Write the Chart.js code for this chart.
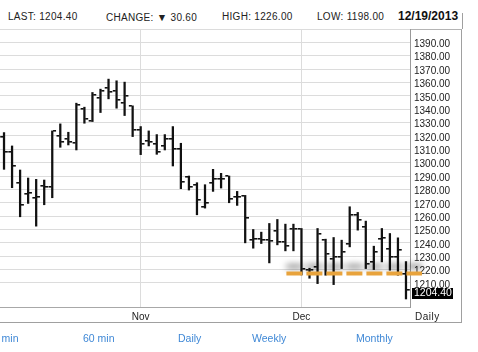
<!DOCTYPE html>
<html>
<head>
<meta charset="utf-8">
<script src="https://cdn.jsdelivr.net/npm/chart.js@4.4.1/dist/chart.umd.min.js"></script>
<style>
  body { margin: 0; background: #fff; font-family: "Liberation Sans", Arial, sans-serif; }
  #wrap { position: relative; width: 478px; height: 352px; overflow: hidden; }
  canvas { position: absolute; left: 0; top: 0; }
  .hdr { position: absolute; top: 11px; font-size: 10px; color: #222; letter-spacing: 0.3px; white-space: nowrap; }
  .date { position: absolute; top: 9px; left: 398px; font-size: 12px; font-weight: bold; color: #111; }
  .frame { position: absolute; left: -1px; top: 29px; width: 462px; height: 292px;
           border-top: 1px solid #b4b4b4; border-right: 1px solid #a0a0a0; border-bottom: 1px solid #a0a0a0; }
  .edge { position: absolute; left: 462px; top: 13px; width: 1px; height: 16px; background: #a0a0a0; }
  .link { position: absolute; top: 332px; font-size: 10.5px; color: #3f88d6; white-space: nowrap; }
  .period { position: absolute; left: 415px; top: 311px; font-size: 10px; color: #222; letter-spacing: 0.5px; }
</style>
</head>
<body>
<div id="wrap">
  <div class="frame"></div>
  <div class="edge"></div>
  <div class="hdr" style="left:8px">LAST: 1204.40</div>
  <div class="hdr" style="left:106px">CHANGE: <span style="font-size:10.5px">&#9660;</span> 30.60</div>
  <div class="hdr" style="left:222px">HIGH: 1226.00</div>
  <div class="hdr" style="left:317px">LOW: 1198.00</div>
  <div class="date">12/19/2013</div>
  <canvas id="chart" width="478" height="352"></canvas>
  <div class="period">Daily</div>
  <div class="link" style="left:-13px">15 min</div>
  <div class="link" style="left:83px">60 min</div>
  <div class="link" style="left:178px">Daily</div>
  <div class="link" style="left:252px">Weekly</div>
  <div class="link" style="left:356px">Monthly</div>
</div>
<script>
const DATES = [
  "10/09", "10/10", "10/11", "10/14", "10/15", "10/16", "10/17", "10/18", "10/21", "10/22",
  "10/23", "10/24", "10/25", "10/28", "10/29", "10/30", "10/31",
  "11/01", "11/04", "11/05", "11/06", "11/07", "11/08", "11/11", "11/12", "11/13", "11/14",
  "11/15", "11/18", "11/19", "11/20", "11/21", "11/22", "11/25", "11/26", "11/27", "11/29",
  "12/02", "12/03", "12/04", "12/05", "12/06", "12/09", "12/10", "12/11", "12/12", "12/13",
  "12/16", "12/17", "12/18", "12/19"
];
const OPEN = [
  1319, 1308.25, 1284.5, 1276.5, 1273.25, 1282.5, 1281.5, 1320, 1317.75, 1315,
  1340, 1331.25, 1348.25, 1355.5, 1353.25, 1344.5, 1342.5,
  1324.5, 1316, 1314, 1312.5, 1318, 1310, 1289, 1283, 1267, 1284.5,
  1288, 1290, 1274.5, 1275, 1242.5, 1243, 1242, 1248.5, 1240.75, 1250,
  1250, 1219.5, 1222, 1242.5, 1228, 1229.5, 1239, 1260.75, 1251.5, 1225.75,
  1243.25, 1235.75, 1229.5, 1217
];
const HIGH = [
  1322.5, 1312.5, 1294.5, 1288.5, 1287.5, 1287, 1323.75, 1329, 1322.75, 1344.5,
  1341.5, 1352.5, 1355, 1362.5, 1361.25, 1360.25, 1342.5,
  1327, 1323.75, 1321, 1321, 1327, 1314.5, 1290, 1285, 1283.5, 1295,
  1292, 1290, 1278.5, 1275.5, 1250, 1248, 1254.5, 1257.5, 1254, 1254,
  1250.75, 1221, 1250.75, 1242.75, 1244, 1242, 1267, 1262.75, 1256.25, 1237.5,
  1250.75, 1247, 1243.75, 1226
];
const LOW = [
  1295, 1281.25, 1259.5, 1269.5, 1252.5, 1268.5, 1273.75, 1311.5, 1313.25, 1309.5,
  1329.5, 1330.75, 1337.5, 1347.75, 1340.75, 1335.25, 1319.5,
  1306, 1312.5, 1306.25, 1309.5, 1297.5, 1280.5, 1279.5, 1261, 1266, 1278.5,
  1281, 1270, 1268, 1240, 1236, 1239.5, 1225, 1238.5, 1234, 1234,
  1216, 1213.5, 1209.5, 1215.75, 1208.75, 1220.75, 1237, 1249.5, 1220.75, 1220,
  1225.75, 1219.5, 1215.75, 1198
];
const CLOSE = [
  1308.25, 1297.5, 1268.25, 1277, 1274, 1282, 1323.75, 1315.25, 1315.75, 1343,
  1333, 1350.75, 1353.25, 1353, 1346.75, 1349.5, 1324.5,
  1314, 1315.5, 1308.25, 1318, 1310, 1285.5, 1281.5, 1272, 1270, 1288,
  1287.5, 1273, 1274, 1258.5, 1243, 1242, 1241.5, 1240.75, 1237.5, 1250.5,
  1220.5, 1220, 1246.5, 1232, 1229.5, 1233.25, 1260.75, 1257, 1224, 1233.25,
  1243.5, 1229.5, 1235, 1204.4
];

const X_TICK_DATES = ["11/01", "12/02"];
const X_TICK_LABELS = ["Nov", "Dec"];
const Y_MIN = 1192;
const Y_MAX = 1400;
const Y_STEP = 10;
const LAST_PRICE = 1204.40;
const SUPPORT_PRICE = 1217;
const SUPPORT_FROM = "11/27";

Chart.defaults.font.family = "'Liberation Sans', Arial, sans-serif";

// open tick on the left, close tick on the right of each high-low bar
const ohlcTicks = {
  id: "ohlcTicks",
  afterDatasetsDraw(chart) {
    const { ctx } = chart;
    const y = chart.scales.y;
    const meta = chart.getDatasetMeta(0);
    ctx.save();
    ctx.fillStyle = "#111111";
    meta.data.forEach((bar, i) => {
      const x = bar.x;
      ctx.fillRect(x - 3.8, Math.round(y.getPixelForValue(OPEN[i])) - 1, 3, 1.6);
      ctx.fillRect(x + 0.8, Math.round(y.getPixelForValue(CLOSE[i])) - 1, 3, 1.6);
    });
    ctx.restore();
  }
};

const overlays = {
  id: "overlays",
  afterDraw(chart) {
    const { ctx, chartArea } = chart;
    const x = chart.scales.x;
    const y = chart.scales.y;

    // dashed support line with its soft shadow
    const x0 = x.getPixelForValue(DATES.indexOf(SUPPORT_FROM));
    const ys = y.getPixelForValue(SUPPORT_PRICE);
    ctx.save();
    ctx.strokeStyle = "#e8a33c";
    ctx.lineWidth = 4;
    ctx.setLineDash([16, 4]);
    ctx.shadowColor = "rgba(0,0,0,0.5)";
    ctx.shadowBlur = 6;
    ctx.shadowOffsetY = -7;
    ctx.beginPath();
    ctx.moveTo(x0 + 1, ys);
    ctx.lineTo(chartArea.right + 12, ys);
    ctx.stroke();
    ctx.restore();

    // last price box on the axis
    const yl = y.getPixelForValue(LAST_PRICE);
    ctx.save();
    ctx.fillStyle = "#000000";
    ctx.fillRect(chartArea.right + 2, Math.round(yl - 2.5), 41, 11);
    ctx.fillStyle = "#ffffff";
    ctx.font = "10.5px 'Liberation Sans', Arial, sans-serif";
    ctx.textBaseline = "middle";
    ctx.fillText(LAST_PRICE.toFixed(2), chartArea.right + 4, yl + 3);
    ctx.restore();
  }
};

new Chart(document.getElementById("chart"), {
  type: "bar",
  data: {
    labels: DATES,
    datasets: [{
      data: LOW.map((l, i) => [l, HIGH[i]]),
      backgroundColor: "#111111",
      borderWidth: 0,
      barThickness: 1.6
    }]
  },
  options: {
    responsive: false,
    animation: false,
    layout: { padding: { top: 29, right: 16, bottom: 29, left: 0 } },
    plugins: { legend: { display: false }, tooltip: { enabled: false } },
    scales: {
      x: {
        offset: true,
        grid: {
          offset: false,
          drawTicks: false,
          color: (c) => (X_TICK_DATES.includes(DATES[c.index]) ? "#dcdcdc" : "rgba(0,0,0,0)")
        },
        border: { color: "#a8a8a8" },
        ticks: {
          autoSkip: false,
          maxRotation: 0,
          padding: 4,
          color: "#222222",
          font: { size: 10 },
          callback: (v, i) => {
            const k = X_TICK_DATES.indexOf(DATES[i]);
            return k >= 0 ? X_TICK_LABELS[k] : "";
          }
        },
        afterFit: (s) => { s.height = 16; }
      },
      y: {
        position: "right",
        min: Y_MIN,
        max: Y_MAX,
        grid: { color: "#dcdcdc", drawTicks: false },
        border: { color: "#999999" },
        ticks: {
          stepSize: Y_STEP,
          autoSkip: false,
          padding: 4,
          labelOffset: 2,
          color: "#222222",
          font: { size: 10 },
          callback: (v) => (v >= Y_MAX ? "" : Number(v).toFixed(2))
        },
        afterBuildTicks: (s) => { s.ticks = s.ticks.filter((t) => t.value % Y_STEP === 0); },
        afterFit: (s) => { s.width = 52; }
      }
    }
  },
  plugins: [ohlcTicks, overlays]
});
</script>
</body>
</html>
